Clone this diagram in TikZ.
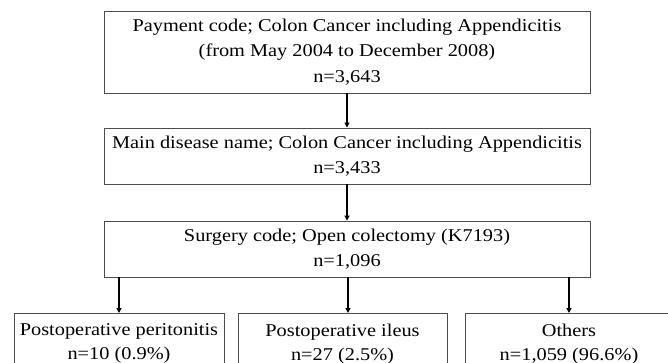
\documentclass[tikz,border=0pt]{standalone}
\usepackage{fontspec}
\setmainfont{Liberation Serif}[FakeStretch=1.13]
\usetikzlibrary{arrows.meta}
\begin{document}
\begin{tikzpicture}[x=1pt,y=-1pt,
  box/.style={draw=black!70,line width=0.9pt,inner sep=0pt,align=center,
    font=\fontsize{18}{25.5}\selectfont},
  lowbox/.style={box,minimum height=61pt,anchor=north,
    font=\fontsize{18}{24}\selectfont},
  arr/.style={line width=1.1pt,-{Triangle[length=5pt,width=5pt]}}]
\useasboundingbox (0,0) rectangle (668,363);
\node[box,minimum width=486pt,minimum height=82pt] (a) at (347,52)
  {Payment code; Colon Cancer including Appendicitis\\(from May 2004 to December 2008)\\n=3,643};
\node[box,minimum width=486pt,minimum height=56pt] (b) at (347,156)
  {Main disease name; Colon Cancer including Appendicitis\\n=3,433};
\node[box,minimum width=486pt,minimum height=56pt] (c) at (347,249)
  {Surgery code; Open colectomy (K7193)\\n=1,096};
\node[lowbox,minimum width=210pt] (d) at (119,313)
  {Postoperative peritonitis\\n=10 (0.9\%)};
\node[lowbox,minimum width=209pt] (e) at (342.5,313)
  {Postoperative ileus\\n=27 (2.5\%)};
\node[lowbox,minimum width=208pt] (f) at (569,313)
  {Others\\n=1,059 (96.6\%)};
\draw[arr] (a.south) -- (b.north);
\draw[arr] (b.south) -- (c.north);
\draw[arr] (c.south -| d.north) -- (d.north);
\draw[arr] ([xshift=5.5pt]c.south -| e.north) -- ([xshift=5.5pt]e.north);
\draw[arr] (c.south -| f.north) -- (f.north);
\end{tikzpicture}
\end{document}
